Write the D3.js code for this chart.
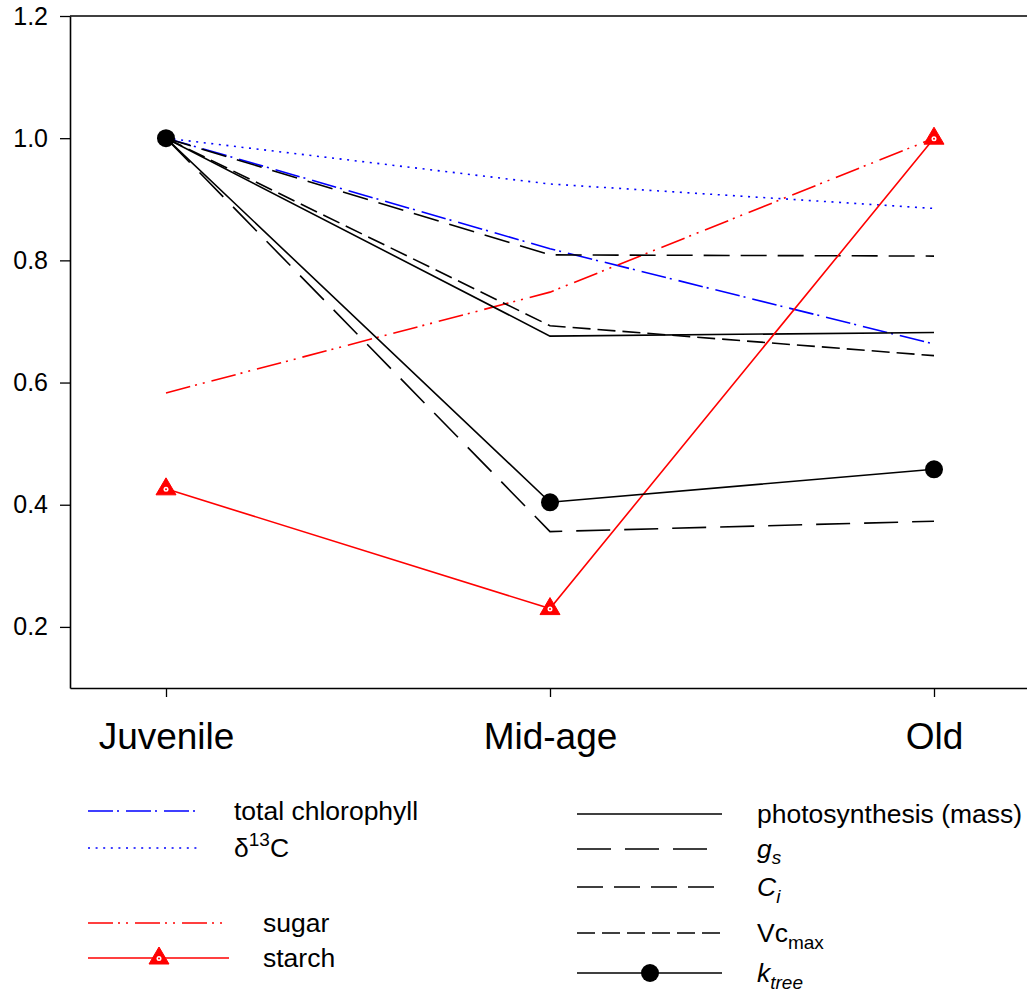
<!DOCTYPE html>
<html>
<head>
<meta charset="utf-8">
<script src="https://cdn.jsdelivr.net/npm/d3@7"></script>
<style>
  html, body { margin: 0; padding: 0; background: #fff; }
  svg { display: block; font-family: "Liberation Sans", Arial, sans-serif; }
</style>
</head>
<body>
<svg id="chart" width="1027" height="994"></svg>
<script>
// Age classes along the x axis
const stages = ["Juvenile", "Mid-age", "Old"];
const yTicks = [0.2, 0.4, 0.6, 0.8, 1.0, 1.2];

// Relative values (Juvenile, Mid-age, Old)
const chlorophyll    = [1.0, 0.819, 0.663];
const delta13C       = [1.0, 0.925, 0.885];
const sugar          = [0.583, 0.748, 1.0];
const starch         = [0.426, 0.230, 1.0];
const photosynthesis = [1.0, 0.676, 0.682];
const gs             = [1.0, 0.356, 0.373];
const ci             = [1.0, 0.809, 0.807];
const vcmax          = [1.0, 0.693, 0.644];
const ktree          = [1.0, 0.404, 0.458];

const svg = d3.select("#chart");

const x = d3.scaleLinear().domain([-0.25, 2.25]).range([70, 1030]);
const y = d3.scaleLinear().domain([0.1, 1.2]).range([688, 16]);

// Line styles
const styles = {
  chlorophyll:    { color: "#0000ff", dash: "25,4,2,7" },
  delta13C:       { color: "#0000ff", dash: "2,5.6" },
  sugar:          { color: "#ff0000", dash: "25,5,2,6,2,7" },
  starch:         { color: "#ff0000", dash: null },
  photosynthesis: { color: "#000", dash: null },
  gs:             { color: "#000", dash: "34,14" },
  ci:             { color: "#000", dash: "26,11" },
  vcmax:          { color: "#000", dash: "18,7" },
  ktree:          { color: "#000", dash: null }
};

const series = [
  { key: "delta13C", values: delta13C },
  { key: "chlorophyll", values: chlorophyll },
  { key: "sugar", values: sugar },
  { key: "photosynthesis", values: photosynthesis },
  { key: "gs", values: gs },
  { key: "ci", values: ci },
  { key: "vcmax", values: vcmax },
  { key: "starch", values: starch },
  { key: "ktree", values: ktree }
];

const line = d3.line().x((d, i) => x(i)).y(d => y(d));

// Frame: top border line
svg.append("line")
  .attr("x1", 70).attr("x2", 1027)
  .attr("y1", y(1.2)).attr("y2", y(1.2))
  .attr("stroke", "#000").attr("stroke-width", 1.5);

// Axes
const yAxis = svg.append("g")
  .attr("transform", `translate(${x(-0.25)},0)`)
  .call(d3.axisLeft(y).tickValues(yTicks).tickFormat(d3.format(".1f"))
    .tickSize(10).tickSizeOuter(0).tickPadding(12));
yAxis.select(".domain").attr("stroke-width", 1.6);
yAxis.selectAll(".tick line").attr("stroke-width", 1.3);
yAxis.selectAll("text").attr("font-size", 25).attr("fill", "#000")
  .attr("font-family", "Liberation Sans, Arial, sans-serif");

const xAxis = svg.append("g")
  .attr("transform", `translate(0,${y(0.1)})`)
  .call(d3.axisBottom(x).tickValues([0, 1, 2]).tickFormat(i => stages[i])
    .tickSize(9).tickSizeOuter(0).tickPadding(26));
xAxis.select(".domain").attr("stroke-width", 1.6);
xAxis.selectAll(".tick line").attr("stroke-width", 1.3);
xAxis.selectAll("text").attr("font-size", 37).attr("fill", "#000")
  .attr("font-family", "Liberation Sans, Arial, sans-serif");

// Data lines
svg.append("g").selectAll("path")
  .data(series)
  .join("path")
  .attr("d", d => line(d.values))
  .attr("fill", "none")
  .attr("stroke", d => styles[d.key].color)
  .attr("stroke-width", 1.6)
  .attr("stroke-dasharray", d => styles[d.key].dash);

// Markers
function triangle(g, cx, cy) {
  g.append("path")
    .attr("d", `M${cx},${cy - 11}L${cx + 10},${cy + 6}L${cx - 10},${cy + 6}Z`)
    .attr("fill", "#ff0000").attr("stroke", "#ff0000").attr("stroke-width", 1);
  g.append("circle").attr("cx", cx).attr("cy", cy + 0.5).attr("r", 2.5).attr("fill", "#fff");
  g.append("circle").attr("cx", cx).attr("cy", cy + 0.5).attr("r", 1).attr("fill", "#ff0000");
}
function dot(g, cx, cy) {
  g.append("circle").attr("cx", cx).attr("cy", cy).attr("r", 9).attr("fill", "#000");
}

const markers = svg.append("g");
starch.forEach((v, i) => triangle(markers, x(i), y(v)));
ktree.forEach((v, i) => dot(markers, x(i), y(v)));

// Legend
const legendFont = 26.5;
const subFont = 19;
const leg = svg.append("g").attr("font-size", legendFont).attr("fill", "#000");

function legLine(x1, x2, yy, key) {
  leg.append("line")
    .attr("x1", x1).attr("x2", x2).attr("y1", yy).attr("y2", yy)
    .attr("stroke", styles[key].color).attr("stroke-width", 1.6)
    .attr("stroke-dasharray", styles[key].dash);
}
function legText(tx, yy) {
  return leg.append("text").attr("x", tx).attr("y", yy + 9);
}

// Left column
legLine(88, 200, 811, "chlorophyll");
legText(234, 811).text("total chlorophyll");

legLine(88, 202, 848, "delta13C");
{
  const t = legText(234, 848);
  t.append("tspan").text("δ");
  t.append("tspan").attr("font-size", subFont).attr("dy", -11).text("13");
  t.append("tspan").attr("dy", 11).text("C");
}

legLine(88, 222, 923, "sugar");
legText(263, 923).text("sugar");

legLine(88, 229, 958, "starch");
triangle(leg, 159, 958);
legText(263, 958).text("starch");

// Right column
legLine(577, 722, 814, "photosynthesis");
legText(757, 814).text("photosynthesis (mass)");

legLine(577, 707, 849, "gs");
{
  const t = legText(757, 849);
  t.append("tspan").attr("font-style", "italic").text("g");
  t.append("tspan").attr("font-style", "italic").attr("font-size", subFont).attr("dy", 6).text("s");
}

legLine(577, 714, 887, "ci");
{
  const t = legText(757, 887);
  t.append("tspan").attr("font-style", "italic").text("C");
  t.append("tspan").attr("font-style", "italic").attr("font-size", subFont).attr("dy", 7).text("i");
}

legLine(577, 722, 933, "vcmax");
{
  const t = legText(757, 933);
  t.append("tspan").text("Vc");
  t.append("tspan").attr("font-size", subFont).attr("dy", 7).text("max");
}

legLine(577, 722, 973, "ktree");
dot(leg, 650, 973);
{
  const t = legText(757, 973);
  t.append("tspan").attr("font-style", "italic").text("k");
  t.append("tspan").attr("font-style", "italic").attr("font-size", subFont).attr("dy", 7).text("tree");
}
</script>
</body>
</html>
